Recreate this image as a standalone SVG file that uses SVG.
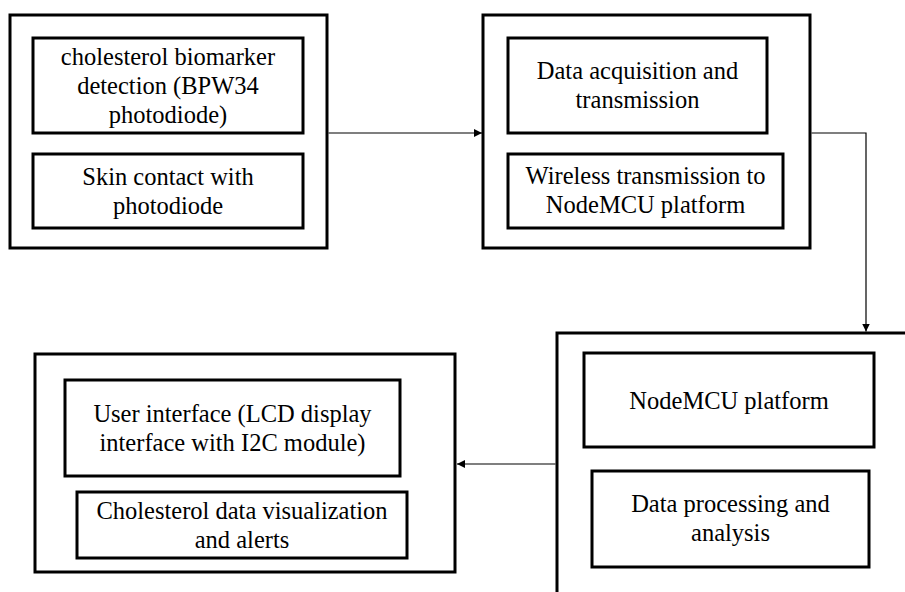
<svg xmlns="http://www.w3.org/2000/svg" width="905" height="592" viewBox="0 0 905 592">
<style>
.box{fill:#fff;stroke:#000;stroke-width:3}
.t{font-family:"Liberation Serif","Times New Roman",serif;font-size:24.5px;fill:#000;text-anchor:middle}
.c{fill:none;stroke:#000;stroke-width:1.2}
</style>
<defs>
<marker id="ah" viewBox="0 0 10 10" refX="10" refY="5" markerWidth="8" markerHeight="8" markerUnits="userSpaceOnUse" orient="auto">
<path d="M0,0 L10,5 L0,10 Z" fill="#000"/>
</marker>
</defs>
<rect width="905" height="592" fill="#fff"/>
<g id="node-sensing">
<rect class="box" x="10" y="15" width="317" height="233"/>
<rect class="box" x="33" y="38" width="270" height="95"/>
<text class="t" x="168" y="64.5">cholesterol biomarker</text>
<text class="t" x="168" y="93.5">detection (BPW34</text>
<text class="t" x="168" y="122.5">photodiode)</text>
<rect class="box" x="33" y="154" width="270" height="74"/>
<text class="t" x="168" y="184.5">Skin contact with</text>
<text class="t" x="168" y="213.5">photodiode</text>
</g>
<g id="node-acquisition">
<rect class="box" x="483" y="15" width="327" height="233"/>
<rect class="box" x="508" y="38" width="259" height="95"/>
<text class="t" x="637.5" y="79">Data acquisition and</text>
<text class="t" x="637.5" y="108">transmission</text>
<rect class="box" x="508" y="154" width="275" height="74"/>
<text class="t" x="645.5" y="184">Wireless transmission to</text>
<text class="t" x="645.5" y="213">NodeMCU platform</text>
</g>
<g id="node-nodemcu">
<rect class="box" x="557" y="333" width="400" height="300"/>
<rect class="box" x="584" y="353" width="290" height="94"/>
<text class="t" x="729" y="408.5">NodeMCU platform</text>
<rect class="box" x="592" y="471" width="277" height="96"/>
<text class="t" x="730.5" y="512">Data processing and</text>
<text class="t" x="730.5" y="541">analysis</text>
</g>
<g id="node-ui">
<rect class="box" x="35" y="354" width="420" height="218"/>
<rect class="box" x="65" y="380" width="335" height="96"/>
<text class="t" x="232.5" y="421.5">User interface (LCD display</text>
<text class="t" x="232.5" y="450.5">interface with I2C module)</text>
<rect class="box" x="77" y="492" width="330" height="66"/>
<text class="t" x="242" y="518.5">Cholesterol data visualization</text>
<text class="t" x="242" y="547.5">and alerts</text>
</g>
<g id="connectors">
<path class="c" d="M328.5,133 L482,133" marker-end="url(#ah)"/>
<path class="c" d="M811.5,133 L866,133 L866,331.5" marker-end="url(#ah)"/>
<path class="c" d="M555.5,464 L457,464" marker-end="url(#ah)"/>
</g>
</svg>
